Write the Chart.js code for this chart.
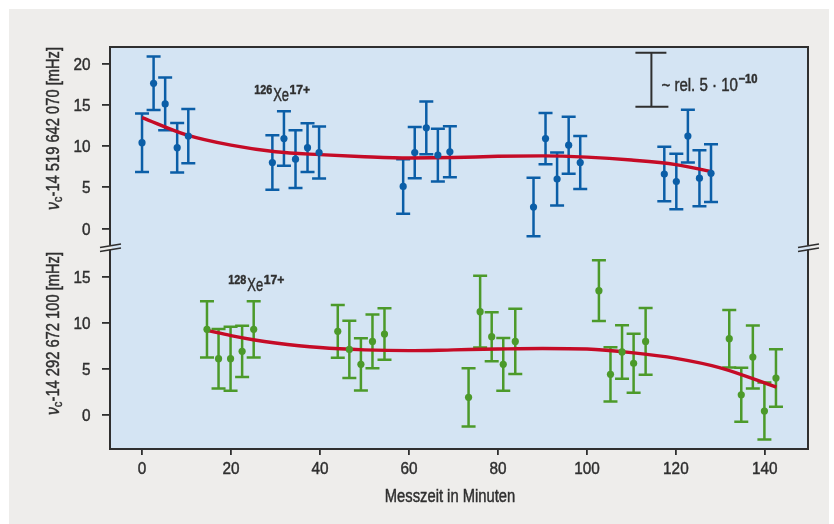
<!DOCTYPE html>
<html><head><meta charset="utf-8">
<script src="https://cdn.jsdelivr.net/npm/chart.js@4"></script>
<style>html,body{margin:0;padding:0;background:#fff}canvas{display:block}</style>
</head><body>
<canvas id="c" width="834" height="524"></canvas>
<script>
const FONT = '"Liberation Sans","Arimo",Arial,sans-serif';
const SX = 0.82; // horizontal condensing of the sans face

// ---- tick labels ----
const xTicks = [0, 20, 40, 60, 80, 100, 120, 140];
const yTicksTop = [0, 5, 10, 15, 20];
const yTicksBot = [0, 5, 10, 15];

// ---- 126Xe17+ measurements (top panel) ----
const t126 = [0, 2.6, 5.2, 7.9, 10.4, 29.3, 31.9, 34.5, 37.2, 39.8, 58.7, 61.3, 63.9, 66.5, 69.2, 88.0, 90.7, 93.3, 95.9, 98.5, 117.4, 120.1, 122.7, 125.3, 127.9];
const v126 = [10.4, 17.6, 15.1, 9.8, 11.2, 8.0, 10.9, 8.4, 9.8, 9.2, 5.1, 9.2, 12.2, 8.9, 9.3, 2.6, 10.9, 6.0, 10.1, 8.0, 6.6, 5.7, 11.2, 6.1, 6.7];
const e126 = [3.55, 3.25, 3.2, 3.0, 3.3, 3.3, 3.3, 3.5, 2.95, 3.15, 3.3, 3.1, 3.2, 3.2, 3.1, 3.55, 3.1, 3.2, 3.45, 3.2, 3.3, 3.35, 3.2, 3.4, 3.5];
// fit curve
const fitT126 = [0, 10, 20, 30, 40, 50, 60, 70, 80, 90, 100, 110, 120, 128];
const fitV126 = [13.45, 11.35, 10.1, 9.3, 8.95, 8.7, 8.55, 8.6, 8.75, 8.8, 8.65, 8.3, 7.75, 6.9];

// ---- 128Xe17+ measurements (bottom panel) ----
const t128 = [14.6, 17.2, 19.9, 22.5, 25.1, 44.0, 46.6, 49.2, 51.8, 54.5, 73.4, 76.0, 78.6, 81.2, 83.9, 102.7, 105.3, 107.9, 110.5, 113.2, 132.0, 134.7, 137.3, 139.9, 142.5];
const v128 = [9.28, 6.09, 6.09, 6.89, 9.28, 9.06, 7.1, 5.47, 7.97, 8.77, 1.89, 11.2, 8.48, 5.47, 7.97, 13.48, 4.39, 6.82, 5.59, 7.97, 8.26, 2.17, 6.27, 0.4, 3.99];
const e128 = [3.06, 3.23, 3.48, 2.78, 3.06, 2.86, 3.1, 2.83, 2.92, 2.8, 3.17, 3.9, 2.66, 2.88, 3.54, 3.3, 2.95, 2.9, 3.2, 3.62, 3.12, 2.93, 3.42, 3.1, 3.13];
const fitT128 = [14.6, 20, 25, 30, 40, 50, 60, 70, 80, 90, 100, 110, 120, 130, 142.6];
const fitV128 = [9.17, 8.6, 8.15, 7.8, 7.3, 7.05, 6.96, 7.05, 7.14, 7.2, 7.14, 6.75, 6.13, 5.1, 3.0];

const BLUE = '#0b5ea7', GREEN = '#4c9a2a', RED = '#c50b26', INK = '#2f2f2f';
const PLOTBG = '#d4e4f3', OUTER = '#eeedeb';

const pts = (xs, ys) => xs.map((x, i) => ({x, y: ys[i]}));

// condensed text helper: returns drawn width
function txt(ctx, s, x, y, font, align, sx) {
  sx = sx || SX;
  ctx.save();
  ctx.font = font;
  const w = ctx.measureText(s).width * sx;
  let x0 = x;
  if (align === 'center') x0 = x - w / 2;
  else if (align === 'right') x0 = x - w;
  ctx.translate(x0, y);
  ctx.scale(sx, 1);
  ctx.textAlign = 'left';
  ctx.textBaseline = 'alphabetic';
  ctx.fillStyle = INK;
  ctx.strokeStyle = INK;
  ctx.lineWidth = 0.45;
  ctx.fillText(s, 0, 0);
  ctx.strokeText(s, 0, 0);
  ctx.restore();
  return w;
}

const bgPlugin = {
  id: 'bg',
  beforeDraw(chart) {
    const {ctx, chartArea: a} = chart;
    ctx.save();
    ctx.fillStyle = '#ffffff';
    ctx.fillRect(0, 0, chart.width, chart.height);
    ctx.fillStyle = OUTER;
    ctx.fillRect(9, 9, 820, 515);
    ctx.fillStyle = PLOTBG;
    ctx.fillRect(a.left, a.top, a.right - a.left, a.bottom - a.top);
    ctx.restore();
  }
};

const errPlugin = {
  id: 'errbars',
  beforeDatasetsDraw(chart) {
    const {ctx} = chart;
    chart.data.datasets.forEach(ds => {
      if (!ds.errors) return;
      const xs = chart.scales.x, ys = chart.scales[ds.yAxisID];
      ctx.save();
      ctx.strokeStyle = ds.backgroundColor;
      ctx.lineWidth = 2.5;
      ds.data.forEach((p, i) => {
        const px = xs.getPixelForValue(p.x);
        const top = ys.getPixelForValue(p.y + ds.errors[i]);
        const bot = ys.getPixelForValue(p.y - ds.errors[i]);
        ctx.beginPath();
        ctx.moveTo(px, top); ctx.lineTo(px, bot);
        ctx.moveTo(px - 7, top); ctx.lineTo(px + 7, top);
        ctx.moveTo(px - 7, bot); ctx.lineTo(px + 7, bot);
        ctx.stroke();
      });
      ctx.restore();
    });
  }
};

function drawIon(ctx, x, y, mass) {
  let cx = x;
  cx += txt(ctx, mass, cx, y - 7, 'bold 13.5px ' + FONT, 'left', 0.8) + 1;
  cx += txt(ctx, 'Xe', cx, y, '17.5px ' + FONT, 'left', 0.74) + 0.5;
  txt(ctx, '17+', cx, y - 7, 'bold 13.5px ' + FONT, 'left', 0.9);
}

function drawYTitle(ctx, xBase, yStart, rest) {
  ctx.save();
  ctx.translate(xBase, yStart);
  ctx.rotate(-Math.PI / 2);
  let cx = 0;
  cx += txt(ctx, 'ν', cx, 0, 'italic 17.5px ' + FONT, 'left', 0.9);
  cx += txt(ctx, 'c', cx, 3, '12.5px ' + FONT, 'left', 0.9);
  txt(ctx, rest, cx, 0, '17.5px ' + FONT, 'left', 0.84);
  ctx.restore();
}

const annoPlugin = {
  id: 'anno',
  afterDatasetsDraw(chart) {
    const {ctx, chartArea: a} = chart;
    const xs = chart.scales.x, yt = chart.scales.yTop, yb = chart.scales.yBot;

    // ion labels
    drawIon(ctx, xs.getPixelForValue(25.2), yt.getPixelForValue(15.5), '126');
    drawIon(ctx, xs.getPixelForValue(19.4), yb.getPixelForValue(13.5), '128');

    // relative scale bar
    const bx = xs.getPixelForValue(114.5);
    const b1 = yt.getPixelForValue(21.3), b2 = yt.getPixelForValue(14.75);
    ctx.save();
    ctx.strokeStyle = INK; ctx.lineWidth = 2;
    ctx.beginPath();
    ctx.moveTo(bx, b1); ctx.lineTo(bx, b2);
    ctx.moveTo(bx - 16, b1); ctx.lineTo(bx + 15, b1);
    ctx.moveTo(bx - 16, b2); ctx.lineTo(bx + 17, b2);
    ctx.stroke();
    ctx.restore();
    const base = yt.getPixelForValue(16.7);
    let cx = bx + 10;
    cx += txt(ctx, '~ rel. 5 · 10', cx, base, '17.5px ' + FONT, 'left', 0.86) + 0.5;
    txt(ctx, '−10', cx, base - 8, 'bold 12.5px ' + FONT, 'left', 0.9);

    // frame
    ctx.save();
    ctx.strokeStyle = INK; ctx.lineWidth = 2;
    ctx.strokeRect(a.left, a.top, a.right - a.left, a.bottom - a.top);
    // axis break marks
    const yBreak = yt.bottom;
    [a.left, a.right].forEach(x0 => {
      ctx.fillStyle = x0 === a.left ? OUTER : PLOTBG;
      ctx.beginPath();
      ctx.moveTo(x0 - 2, yBreak - 1); ctx.lineTo(x0 + 2, yBreak - 2);
      ctx.lineTo(x0 + 2, yBreak + 2); ctx.lineTo(x0 - 2, yBreak + 3);
      ctx.closePath(); ctx.fill();
      ctx.lineWidth = 1.6;
      ctx.beginPath();
      ctx.moveTo(x0 - 10, yBreak + 0.5); ctx.lineTo(x0 + 11, yBreak - 3);
      ctx.moveTo(x0 - 10, yBreak + 4.5); ctx.lineTo(x0 + 11, yBreak + 1);
      ctx.stroke();
    });
    ctx.restore();

    // tick labels (condensed)
    const tf = '17px ' + FONT;
    xs.ticks.forEach(t => txt(ctx, String(t.value), xs.getPixelForValue(t.value), a.bottom + 25, tf, 'center', 0.9));
    [yt, yb].forEach(s => s.ticks.forEach(t => txt(ctx, String(t.value), a.left - 19.5, s.getPixelForValue(t.value) + 6, tf, 'right', 0.9)));

    // axis titles
    drawYTitle(ctx, 59, 210, '-14 519 642 070 [mHz]');
    drawYTitle(ctx, 59, 415, '-14 292 672 100 [mHz]');
    txt(ctx, 'Messzeit in Minuten', 450, 502, '18px ' + FONT, 'center', 0.82);
  }
};

const yCommon = {
  type: 'linear', position: 'left', stack: 'panels', offset: false,
  grid: {drawOnChartArea: false, drawTicks: true, tickLength: 8, color: INK, lineWidth: 1.8},
  border: {display: false},
  ticks: {display: false},
  afterFit(s) { s.width = 110; }
};

new Chart(document.getElementById('c'), {
  type: 'scatter',
  data: {
    datasets: [
      {label: 'fit 126', type: 'line', data: pts(fitT126, fitV126), yAxisID: 'yTop', borderColor: RED, borderWidth: 3.4, pointRadius: 0, cubicInterpolationMode: 'monotone', fill: false, order: 3},
      {label: 'fit 128', type: 'line', data: pts(fitT128, fitV128), yAxisID: 'yBot', borderColor: RED, borderWidth: 3.4, pointRadius: 0, cubicInterpolationMode: 'monotone', fill: false, order: 3},
      {label: '126Xe17+', data: pts(t126, v126), errors: e126, yAxisID: 'yTop', backgroundColor: BLUE, borderWidth: 0, pointRadius: 3.6, order: 1},
      {label: '128Xe17+', data: pts(t128, v128), errors: e128, yAxisID: 'yBot', backgroundColor: GREEN, borderWidth: 0, pointRadius: 3.6, order: 1}
    ]
  },
  options: {
    responsive: false, animation: false, devicePixelRatio: 1,
    layout: {padding: {left: 0, top: 47, right: 26, bottom: 0}},
    plugins: {legend: {display: false}, tooltip: {enabled: false}},
    scales: {
      x: {
        type: 'linear', min: -7.2, max: 149.7,
        grid: {drawOnChartArea: false, drawTicks: true, tickLength: 6, color: INK, lineWidth: 1.8},
        border: {display: false},
        ticks: {display: false},
        afterBuildTicks(s) { s.ticks = xTicks.map(v => ({value: v})); },
        afterFit(s) { s.height = 75; }
      },
      yBot: Object.assign({}, yCommon, {
        min: -3.73, max: 18.23, stackWeight: 202,
        afterBuildTicks(s) { s.ticks = yTicksBot.map(v => ({value: v})); }
      }),
      yTop: Object.assign({}, yCommon, {
        min: -2.24, max: 22.0, stackWeight: 200,
        afterBuildTicks(s) { s.ticks = yTicksTop.map(v => ({value: v})); }
      })
    }
  },
  plugins: [bgPlugin, errPlugin, annoPlugin]
});
</script>
</body></html>
